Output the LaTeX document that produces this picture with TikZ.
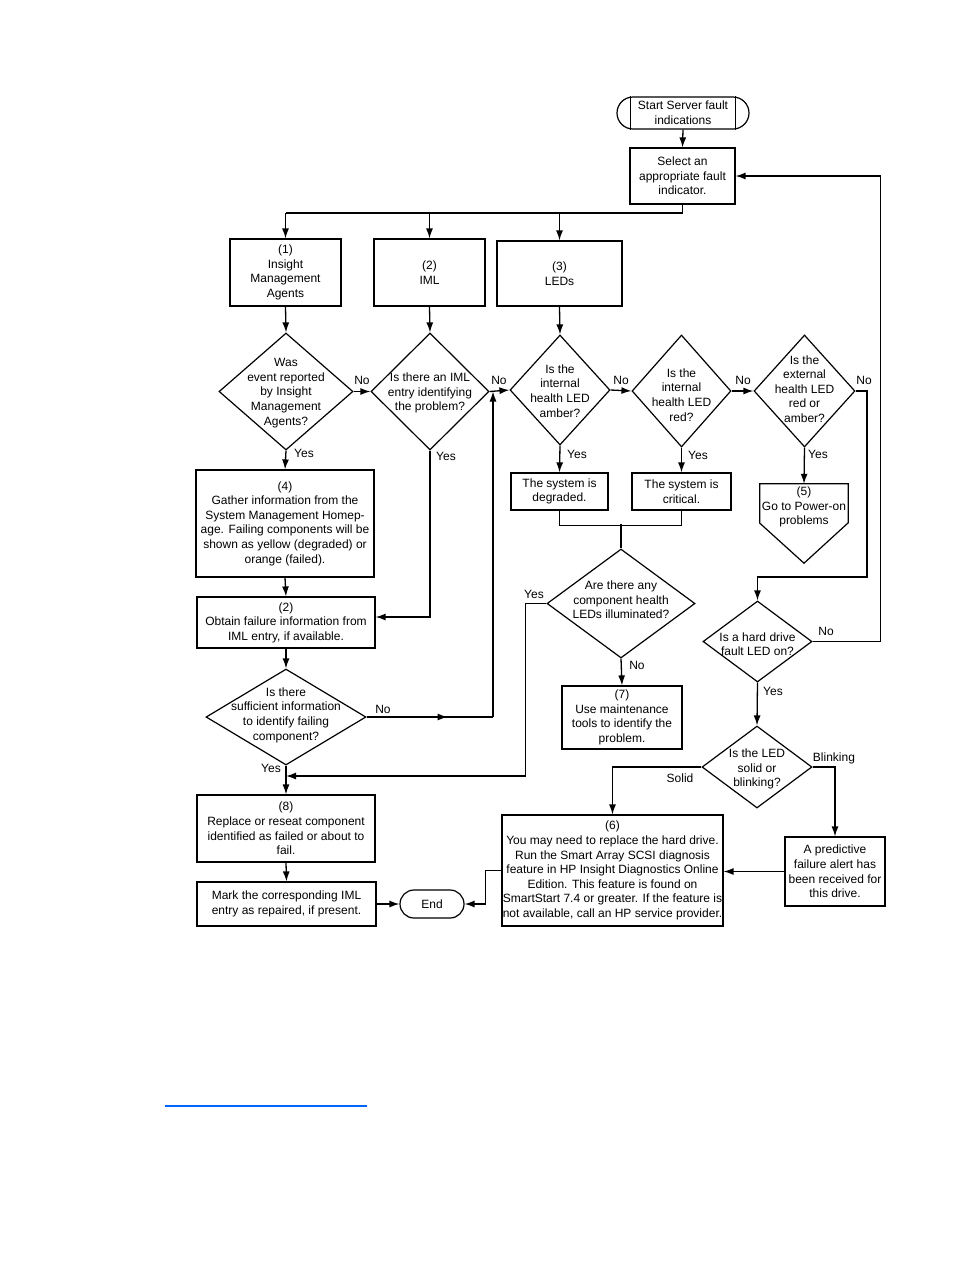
\documentclass[tikz,border=0pt]{standalone}
\usepackage{fontspec}
\setmainfont{Liberation Sans}
\usetikzlibrary{shapes.geometric,shapes.misc,arrows.meta}
\definecolor{linkblue}{RGB}{0,102,255}
\begin{document}
\begin{tikzpicture}[x=1pt,y=-1pt,
  every node/.style={font=\fontsize{12}{14.6}\selectfont},
  box/.style={draw, line width=1.2pt, inner sep=0pt, align=center},
  dia/.style={draw, diamond, line width=1.2pt, inner sep=0pt},
  txt/.style={align=center, inner sep=0pt},
  lbl/.style={inner sep=0pt},
  arr/.style={-{Latex[length=10pt,width=7pt]}, line width=1.3pt},
  ln/.style={line width=1.3pt}]
\useasboundingbox (0,0) rectangle (954,1270);
\fill[white] (0,0) rectangle (954,1270);

% terminals
\node[draw, rounded rectangle, line width=1.2pt, minimum width=132pt, minimum height=32pt, inner sep=0pt, align=center] (start) at (683,113) {Start Server fault\\indications};
\draw[line width=1.2pt] ([xshift=14pt]start.west |- start.north) -- ([xshift=14pt]start.west |- start.south);
\draw[line width=1.2pt] ([xshift=-14pt]start.east |- start.north) -- ([xshift=-14pt]start.east |- start.south);
\node[draw, rounded rectangle, line width=1.2pt, minimum width=64pt, minimum height=28pt, inner sep=0pt] (endn) at (432,904) {End};

% boxes
\node[box, minimum width=105pt, minimum height=56pt] (sel) at (682.5,176) {Select an\\appropriate fault\\indicator.};
\node[box, minimum width=111pt, minimum height=67pt] (b1) at (285.5,272.5) {(1)\\Insight\\Management\\Agents};
\node[box, minimum width=111pt, minimum height=67pt] (b2) at (429.5,272.5) {(2)\\IML};
\node[box, minimum width=125pt, minimum height=65pt] (b3) at (559.5,273.5) {(3)\\LEDs};
\node[box, minimum width=178pt, minimum height=107pt] (b4) at (285,523.5) {(4)\\Gather information from the\\System Management Homep-\\age. Failing components will be\\shown as yellow (degraded) or\\orange (failed).};
\node[box, minimum width=178pt, minimum height=51pt] (b2b) at (286,622.5) {(2)\\Obtain failure information from\\IML entry, if available.};
\node[box, minimum width=178pt, minimum height=67pt] (b8) at (286,828.5) {(8)\\Replace or reseat component\\identified as failed or about to\\fail.};
\node[box, minimum width=179pt, minimum height=44pt] (mark) at (286.5,904) {Mark the corresponding IML\\entry as repaired, if present.};
\node[box, minimum width=97pt, minimum height=37pt] (deg) at (559.5,491.5) {The system is\\degraded.};
\node[box, minimum width=99pt, minimum height=37pt] (crit) at (681.5,491.5) {The system is\\critical.};
\node[box, minimum width=120pt, minimum height=63pt] (b7) at (622,717.5) {(7)\\Use maintenance\\tools to identify the\\problem.};
\node[box, minimum width=221pt, minimum height=111pt] (b6) at (612.5,870.5) {(6)\\You may need to replace the hard drive.\\Run the Smart Array SCSI diagnosis\\feature in HP Insight Diagnostics Online\\Edition. This feature is found on\\SmartStart 7.4 or greater. If the feature is\\not available, call an HP service provider.};
\node[box, minimum width=100pt, minimum height=69pt] (pred) at (835,871.5) {A predictive\\failure alert has\\been received for\\this drive.};

% off-page connector (5)
\node[minimum width=88pt, minimum height=79pt, inner sep=0pt] (n5) at (804,523.5) {};
\draw[line width=1.2pt] (n5.north west) -- (n5.north east) -- ++(0,39) -- (n5.south) -- ([yshift=40pt]n5.south west) -- cycle;
\node[txt] (n5t) at (804,507) {(5)\\Go to Power-on\\problems};

% diamonds
\node[dia, minimum width=134pt, minimum height=117pt] (d1) at (286,391.5) {};
\node[txt] (d1t) at (286,393) {Was\\event reported\\by Insight\\Management\\Agents?};
\node[dia, minimum width=118pt, minimum height=117pt] (d2) at (430,391.5) {};
\node[txt] (d2t) at (430,393) {Is there an IML\\entry identifying\\the problem?};
\node[dia, minimum width=100pt, minimum height=110pt] (d3) at (560,390) {};
\node[txt] (d3t) at (560,391) {Is the\\internal\\health LED\\amber?};
\node[dia, minimum width=99pt, minimum height=112pt] (d4) at (681.5,391) {};
\node[txt] (d4t) at (681.5,395) {Is the\\internal\\health LED\\red?};
\node[dia, minimum width=101pt, minimum height=112pt] (d5) at (804.5,391) {};
\node[txt] (d5t) at (804.5,389) {Is the\\external\\health LED\\red or\\amber?};
\node[dia, minimum width=160pt, minimum height=96pt] (d7) at (286,717) {};
\node[txt] (d7t) at (286,715) {Is there\\sufficient information\\to identify failing\\component?};
\node[dia, minimum width=148pt, minimum height=109pt] (d8) at (621,603.5) {};
\node[txt] (d8t) at (621,600) {Are there any\\component health\\LEDs illuminated?};
\node[dia, minimum width=109pt, minimum height=81pt] (d6) at (757.5,641.5) {};
\node[txt] (d6t) at (757.5,644) {Is a hard drive\\fault LED on?};
\node[dia, minimum width=110pt, minimum height=82pt] (d9) at (757,767) {};
\node[txt] (d9t) at (757,769) {Is the LED\\solid or\\blinking?};

% connectors
\draw[arr] (start.south) -- (sel.north);
\coordinate (s1) at (285.5,213);
\coordinate (s2) at (429.5,213);
\coordinate (s3) at (559.5,213);
\draw[ln] (sel.south) |- (s1);
\draw[arr] (s1) -- (b1.north);
\draw[arr] (s2) -- (b2.north);
\draw[arr] (s3) -- (b3.north);
\draw[arr] (b1.south) -- (d1.north);
\draw[arr] (b2.south) -- (d2.north);
\draw[arr] (b3.south) -- (d3.north);
\draw[arr] (d1.east) -- (d2.west);
\draw[arr] (d2.east) -- (d3.west);
\draw[arr] (d3.east) -- (d4.west);
\draw[arr] (d4.east) -- (d5.west);
\draw[arr] (d5.east) -- ++(11.5,0) -- ++(0,186) -| (d6.north);
\draw[arr] (d6.east) -- ++(68,0) |- (sel.east);
\draw[arr] (d1.south) -- (b4.north);
\draw[arr] (b4.south) -- (b2b.north);
\draw[arr] (d2.south) |- ([yshift=5.5pt]b2b.east);
\draw[arr] (b2b.south) -- (d7.north);
\coordinate (j1) at (493,391.5);
\coordinate (j2) at (493,717);
\draw[ln] (d7.east) -- (j2);
\draw[arr] (d7.east) -- ++(81,0);
\draw[arr] (j2) -- (j1);
\draw[arr] (d7.south) -- (b8.north);
\coordinate (j3) at (286,776);
\draw[arr] (d8.west) -- ++(-21,0) |- (j3);
\draw[arr] (b8.south) -- (mark.north);
\draw[arr] (mark.east) -- (endn.west);
\draw[arr] (d3.south) -- (deg.north);
\draw[arr] (d4.south) -- (crit.north);
\draw[arr] (d5.south) -- (n5.north);
\draw[ln] (deg.south) -- ++(0,15) -| (crit.south);
\draw[ln] (d8.north) -- ++(0,-24);
\draw[arr] (d8.south) -- (b7.north);
\draw[arr] (d6.south) -- (d9.north);
\draw[arr] (d9.west) -| (b6.north);
\draw[arr] (d9.east) -| (pred.north);
\draw[arr] (pred.west) -- (pred.west -| b6.east);
\draw[arr] (b6.west) -- ++(-16,0) |- (endn.east);

% labels
\node[lbl] (l1) at (362,380) {No};
\node[lbl] (l2) at (499,380) {No};
\node[lbl] (l3) at (621,380) {No};
\node[lbl] (l4) at (743,380) {No};
\node[lbl] (l5) at (864,380) {No};
\node[lbl] (l6) at (304,453) {Yes};
\node[lbl] (l7) at (446,456) {Yes};
\node[lbl] (l8) at (577,454) {Yes};
\node[lbl] (l9) at (698,455) {Yes};
\node[lbl] (l10) at (818,454) {Yes};
\node[lbl] (l11) at (534,594) {Yes};
\node[lbl] (l12) at (637,665) {No};
\node[lbl] (l13) at (383,709) {No};
\node[lbl] (l14) at (271,768) {Yes};
\node[lbl] (l15) at (826,631) {No};
\node[lbl] (l16) at (773,691) {Yes};
\node[lbl] (l17) at (680,778) {Solid};
\node[lbl] (l18) at (834,758) {Blinking};

% link underline
\coordinate (ua) at (165,1106);
\coordinate (ub) at (367,1106);
\draw[linkblue, line width=1.3pt] (ua) -- (ub);
\end{tikzpicture}
\end{document}
